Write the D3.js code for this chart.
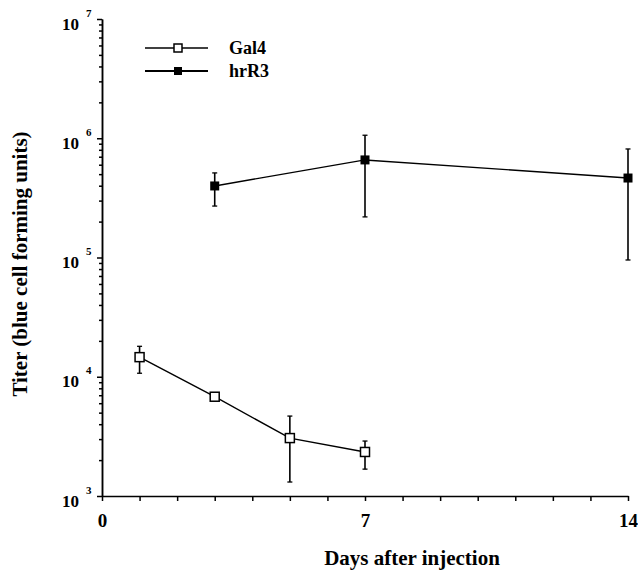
<!DOCTYPE html>
<html>
<head>
<meta charset="utf-8">
<script src="https://cdn.jsdelivr.net/npm/d3@7"></script>
<style>
  body { margin: 0; background: #fff; }
  svg text { font-family: "Liberation Serif", "Times New Roman", serif; font-weight: bold; fill: #000; }
  .axis path, .axis line { stroke: #000; stroke-width: 1.5; }
</style>
</head>
<body>
<div id="chart"></div>
<script>
// ----------------------------------
// DATA
// ----------------------------------
const seriesNames = ["Gal4", "hrR3"];

const gal4Days = [1, 3, 5, 7];
const gal4Titer = [14600, 6800, 3060, 2340];
const gal4Low = [10700, 6400, 1310, 1680];
const gal4High = [18000, 7300, 4680, 2890];

const hrr3Days = [3, 7, 14];
const hrr3Titer = [398000, 658000, 464000];
const hrr3Low = [270000, 219000, 95300];
const hrr3High = [512000, 1060000, 813000];

const xTickLabels = [0, 7, 14];
const yMajorTicks = [1e3, 1e4, 1e5, 1e6, 1e7];

// ----------------------------------
// CONTAINER + SCALES
// ----------------------------------
const width = 638, height = 571;
const margin = {top: 19, right: 10, bottom: 75, left: 102};

const svg = d3.select("#chart").append("svg")
  .attr("width", width)
  .attr("height", height);

const xScale = d3.scaleLinear()
  .domain([0, 14])
  .range([margin.left, 628]);

const yScale = d3.scaleLog()
  .domain([1e3, 1e7])
  .range([height - margin.bottom, margin.top]);

// minor log ticks 2..9 in every decade
const yMinorTicks = [];
yMajorTicks.slice(0, -1).forEach(d => {
  for (let k = 2; k <= 9; k++) yMinorTicks.push(d * k);
});

// ----------------------------------
// AXES
// ----------------------------------
const yAxisMinor = d3.axisLeft(yScale)
  .tickValues(yMinorTicks)
  .tickSize(3)
  .tickSizeOuter(0)
  .tickFormat("");

svg.append("g")
  .classed("axis", true)
  .attr("transform", `translate(${margin.left},0)`)
  .call(yAxisMinor);

const yAxis = d3.axisLeft(yScale)
  .tickValues(yMajorTicks)
  .tickSize(5)
  .tickSizeOuter(0)
  .tickFormat("");

const yG = svg.append("g")
  .classed("axis", true)
  .attr("transform", `translate(${margin.left},0)`)
  .call(yAxis);

// "10" with the exponent raised, like the original scan
yG.selectAll(".tick text")
  .attr("font-family", null)
  .attr("font-size", 17)
  .attr("text-anchor", "start")
  .attr("x", -40)
  .attr("dy", null)
  .attr("y", 10)
  .each(function(d) {
    const t = d3.select(this);
    t.append("tspan").text("10");
    t.append("tspan")
      .attr("font-size", 11)
      .attr("dx", 7)
      .attr("dy", -13)
      .text(Math.round(Math.log10(d)));
  });

const xAxis = d3.axisBottom(xScale)
  .tickValues(d3.range(0, 15))
  .tickSize(5)
  .tickSizeOuter(0)
  .tickPadding(13)
  .tickFormat(d => xTickLabels.includes(d) ? d : "");

svg.append("g")
  .classed("axis", true)
  .attr("transform", `translate(0,${height - margin.bottom})`)
  .call(xAxis)
  .selectAll(".tick text")
  .attr("font-family", null)
  .attr("font-size", 19);

// ----------------------------------
// AXIS TITLES
// ----------------------------------
svg.append("text")
  .attr("x", 412)
  .attr("y", 565)
  .attr("text-anchor", "middle")
  .attr("font-size", 21)
  .text("Days after injection");

svg.append("text")
  .attr("transform", "translate(27,264) rotate(-90)")
  .attr("text-anchor", "middle")
  .attr("font-size", 21)
  .text("Titer (blue cell forming units)");

// ----------------------------------
// SERIES
// ----------------------------------
const line = d3.line()
  .x(d => xScale(d.x))
  .y(d => yScale(d.y));

function drawSeries(days, titer, low, high, filled) {
  const data = days.map((d, i) => ({x: d, y: titer[i], lo: low[i], hi: high[i]}));
  const g = svg.append("g");

  // error bars
  const eb = g.selectAll(".err").data(data).enter().append("g");
  eb.append("line")
    .attr("x1", d => xScale(d.x)).attr("x2", d => xScale(d.x))
    .attr("y1", d => yScale(d.lo)).attr("y2", d => yScale(d.hi))
    .style("stroke", "#000").style("stroke-width", 1.6);
  eb.append("line")
    .attr("x1", d => xScale(d.x) - 2.5).attr("x2", d => xScale(d.x) + 2.5)
    .attr("y1", d => yScale(d.hi)).attr("y2", d => yScale(d.hi))
    .style("stroke", "#000").style("stroke-width", 1.3);
  eb.append("line")
    .attr("x1", d => xScale(d.x) - 2.5).attr("x2", d => xScale(d.x) + 2.5)
    .attr("y1", d => yScale(d.lo)).attr("y2", d => yScale(d.lo))
    .style("stroke", "#000").style("stroke-width", 1.3);

  g.append("path")
    .datum(data)
    .attr("d", line)
    .style("fill", "none")
    .style("stroke", "#000")
    .style("stroke-width", 1.4);

  const s = 9;
  g.selectAll("rect").data(data).enter().append("rect")
    .attr("x", d => xScale(d.x) - s / 2)
    .attr("y", d => yScale(d.y) - s / 2)
    .attr("width", s).attr("height", s)
    .style("fill", filled ? "#000" : "#fff")
    .style("stroke", "#000")
    .style("stroke-width", filled ? 0 : 1.5);
}

drawSeries(gal4Days, gal4Titer, gal4Low, gal4High, false);
drawSeries(hrr3Days, hrr3Titer, hrr3Low, hrr3High, true);

// ----------------------------------
// LEGEND
// ----------------------------------
const legend = svg.append("g").classed("legend", true);
seriesNames.forEach((name, i) => {
  const y = 48 + i * 23;
  legend.append("line")
    .attr("x1", 145).attr("x2", 208)
    .attr("y1", y).attr("y2", y)
    .style("stroke", "#000").style("stroke-width", i === 1 ? 1.8 : 1.4);
  legend.append("rect")
    .attr("x", 178 - 4).attr("y", y - 4)
    .attr("width", 8).attr("height", 8)
    .style("fill", i === 1 ? "#000" : "#fff")
    .style("stroke", "#000")
    .style("stroke-width", i === 1 ? 0 : 1.5);
  legend.append("text")
    .attr("x", 229)
    .attr("y", y + 6)
    .attr("font-size", 18)
    .text(name);
});
</script>
</body>
</html>
